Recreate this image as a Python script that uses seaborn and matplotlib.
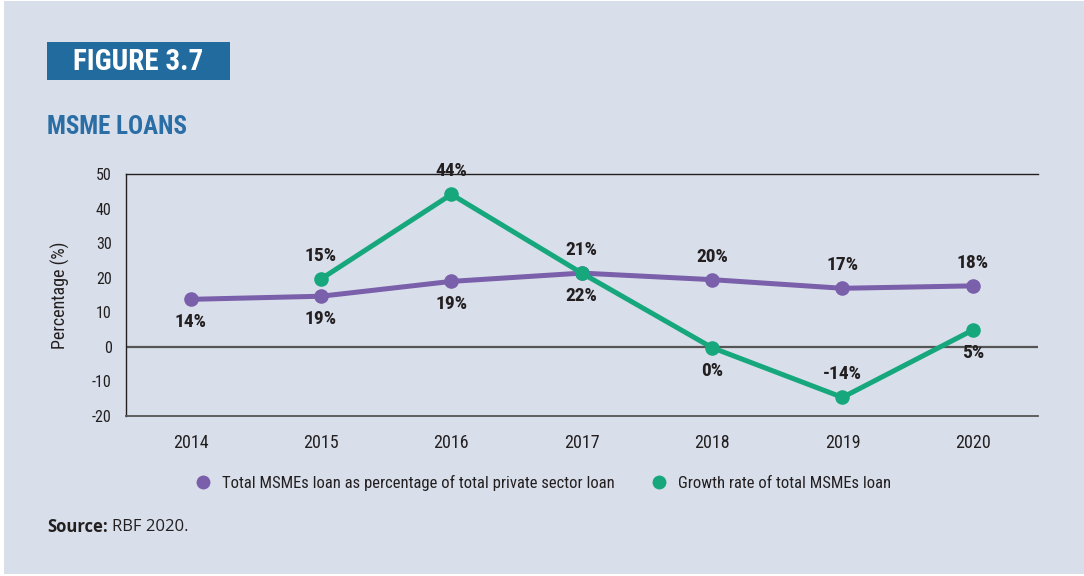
import numpy as np
import pandas as pd
import matplotlib
matplotlib.use("Agg")
import matplotlib.pyplot as plt
from matplotlib import font_manager
from matplotlib.lines import Line2D
from matplotlib.patches import Rectangle
import seaborn as sns

# ---- data -------------------------------------------------------------
years = ["2014", "2015", "2016", "2017", "2018", "2019", "2020"]
share_of_private = [13.7, 14.6, 18.9, 21.3, 19.4, 16.9, 17.6]
growth_rate = [np.nan, 19.6, 44.1, 21.3, -0.3, -14.7, 4.8]
share_labels = ["14%", "19%", "19%", "22%", "20%", "17%", "18%"]
growth_labels = [None, "15%", "44%", "21%", "0%", "-14%", "5%"]
series_names = ["Total MSMEs loan as percentage of total private sector loan",
                "Growth rate of total MSMEs loan"]
y_ticks = [-20, -10, 0, 10, 20, 30, 40, 50]

# label placement: +1 above the point, -1 below
share_side = [-1, -1, -1, -1, 1, 1, 1]
growth_side = [0, 1, 1, 1, -1, 1, -1]

# ---- style ------------------------------------------------------------
BG = "#d8dfea"
PURPLE = "#7a5fab"
GREEN = "#17a77d"
BLUE_BOX = "#226b9f"
BLUE_TXT = "#2b6ea6"
TXT = "#231f20"

sns.set_theme(style="white")
installed = {f.name for f in font_manager.fontManager.ttflist}
narrow = next((f for f in ["Liberation Sans Narrow", "Roboto Condensed",
                           "Open Sans Condensed", "DejaVu Sans"] if f in installed),
              "DejaVu Sans")
plt.rcParams["font.family"] = [narrow, "DejaVu Sans"]
src_font = ["Open Sans", "DejaVu Sans"]

fig = plt.figure(figsize=(10.84, 5.76), dpi=100, facecolor="white")
fig.patches.append(Rectangle((4 / 1084, 2 / 576), 1 - 4 / 1084, 1 - 3 / 576,
                             transform=fig.transFigure, facecolor=BG,
                             edgecolor="none", zorder=-10))

ax = fig.add_axes([125.5 / 1084, 1 - 415.7 / 576, (1038 - 125.5) / 1084,
                   (415.7 - 174) / 576])
ax.set_facecolor(BG)

x = np.arange(len(years))
df = pd.DataFrame({
    "x": np.concatenate([x, x]),
    "value": share_of_private + growth_rate,
    "series": [series_names[0]] * len(years) + [series_names[1]] * len(years),
})
sns.lineplot(data=df, x="x", y="value", hue="series",
             palette=[PURPLE, GREEN], marker="o", markersize=10.5,
             markeredgewidth=0, linewidth=3.6, dashes=False,
             legend=False, ax=ax, zorder=3)

# value labels
def put_labels(values, labels, sides):
    for xi, (v, lab, side) in enumerate(zip(values, labels, sides)):
        if lab is None:
            continue
        ax.annotate(lab, (xi, v), xytext=(0, 16.5 * side), textcoords="offset points",
                    ha="center", va="center", fontsize=14, fontweight="bold",
                    color=TXT, zorder=5)

put_labels(share_of_private, share_labels, share_side)
put_labels(growth_rate, growth_labels, growth_side)

# axes
ax.set_xlim(-0.5, len(years) - 0.5)
ax.set_ylim(-20, 50)
ax.set_yticks(y_ticks)
ax.set_yticklabels([str(t) for t in y_ticks])
ax.set_xticks(x)
ax.set_xticklabels(years)
ax.set_xticks(np.arange(0.5, len(years) - 1, 1.0), minor=True)
ax.tick_params(axis="x", which="major", length=0, pad=13, labelsize=13, colors=TXT)
ax.tick_params(axis="x", which="minor", length=10, width=1.0, color="#555555",
               direction="out")
ax.tick_params(axis="y", length=0, pad=10, labelsize=11.5, colors=TXT)
ax.set_xlabel("")
ax.set_ylabel("Percentage (%)", fontsize=13, color=TXT, labelpad=16)
ax.axhline(0, color="#555555", linewidth=1.6, zorder=1)

for side in ["left", "top"]:
    ax.spines[side].set_color("#231f20")
    ax.spines[side].set_linewidth(1.0)
ax.spines["bottom"].set_color("#555555")
ax.spines["bottom"].set_linewidth(1.3)
ax.spines["right"].set_visible(False)

# legend
handles = [Line2D([], [], linestyle="none", marker="o", markersize=10,
                  markerfacecolor=c, markeredgewidth=0) for c in (PURPLE, GREEN)]
fig.legend(handles, series_names, loc="center", bbox_to_anchor=(0.497, 1 - 483 / 576),
           ncol=2, frameon=False, fontsize=12, handletextpad=0.15,
           columnspacing=1.6, labelcolor=TXT)

# header
fig.patches.append(Rectangle((47 / 1084, 1 - 80 / 576), (230 - 47) / 1084, 38 / 576,
                             transform=fig.transFigure, facecolor=BLUE_BOX,
                             edgecolor="none"))
fig.text(138 / 1084, 1 - 62 / 576, "FIGURE 3.7", ha="center", va="center",
         fontsize=21, fontweight="bold", color="white")
fig.text(47 / 1084, 1 - 127 / 576, "MSME LOANS", ha="left", va="center",
         fontsize=18, fontweight="bold", color=BLUE_TXT)

# source note: bold lead-in followed by regular text
renderer = fig.canvas.get_renderer()
lead = fig.text(47 / 1084, 1 - 527 / 576, "Source:", ha="left", va="center",
                fontsize=12, fontweight="bold", color=TXT, family=src_font)
lead_box = lead.get_window_extent(renderer=renderer)
fig.text((lead_box.x1 + 4) / 1084, 1 - 527 / 576, "RBF 2020.", ha="left",
         va="center", fontsize=12, color=TXT, family=src_font)

fig.savefig("out.png", dpi=100, facecolor=fig.get_facecolor())
